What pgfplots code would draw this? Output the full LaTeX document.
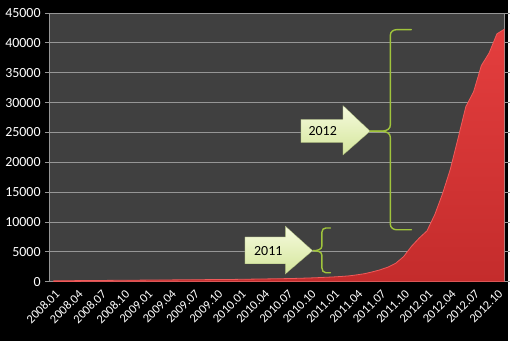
\documentclass[border=0pt]{standalone}
\usepackage{fontspec}
\setmainfont{Carlito}
\usepackage{pgfplots}
\pgfplotsset{compat=1.18}
\definecolor{plotbg}{RGB}{64,64,64}
\definecolor{gridc}{RGB}{150,150,150}
\definecolor{redA}{RGB}{228,62,62}
\definecolor{redB}{RGB}{196,44,44}
\definecolor{redE}{RGB}{240,90,90}
\definecolor{brk}{RGB}{160,196,60}
\definecolor{arrT}{RGB}{246,250,222}
\definecolor{arrB}{RGB}{212,230,155}
\pgfplotstableread{
i v
0 150
1 160
2 170
3 180
4 190
5 200
6 210
7 220
8 230
9 240
10 250
11 260
12 270
13 280
14 290
15 300
16 310
17 320
18 330
19 340
20 350
21 360
22 370
23 380
24 400
25 420
26 440
27 460
28 480
29 500
30 520
31 550
32 590
33 630
34 680
35 740
36 800
37 880
38 980
39 1150
40 1350
41 1650
42 2000
43 2450
44 3100
45 4200
46 5900
47 7300
48 8500
49 11200
50 14700
51 18800
52 24000
53 29300
54 31800
55 36200
56 38300
57 41500
58 42300
}\datatable
\begin{document}
\begin{tikzpicture}[x=1pt,y=1pt]
\fill[black] (0,0) rectangle (510,343);
\begin{axis}[
  at={(50pt,60pt)}, anchor=south west,
  scale only axis, width=457pt, height=270pt,
  xmin=-0.5, xmax=58, ymin=0, ymax=45000,
  ytick={0,5000,...,45000},
  scaled y ticks=false,
  /pgf/number format/1000 sep={},
  /pgf/number format/assume math mode=true,
  xtick={0,3,...,57},
  xticklabels={2008.01,2008.04,2008.07,2008.10,2009.01,2009.04,2009.07,2009.10,2010.01,2010.04,2010.07,2010.10,2011.01,2011.04,2011.07,2011.10,2012.01,2012.04,2012.07,2012.10},
  x tick label style={rotate=45, anchor=north east, font=\fontsize{12.5}{13}\selectfont, text=white, inner sep=1pt, yshift=-1pt},
  y tick label style={font=\fontsize{14}{16}\selectfont, text=white, inner sep=1pt, xshift=-3pt},
  axis background/.style={fill=plotbg},
  ymajorgrids, grid style={gridc, line width=0.7pt},
  axis line style={gridc, line width=0.8pt},
  tick align=outside, major tick length=5pt,
  ytick style={draw=gridc, line width=0.7pt},
  xtick style={draw=none},
  clip=true,
]
\addplot[draw=redE, line width=0.8pt, top color=redA, bottom color=redB] table[x=i, y=v] {\datatable} \closedcycle;
% 2012 arrow
\fill[top color=arrT, bottom color=arrB, draw=arrB!80!black, line width=0.3pt]
  (31.8,27200) -- (37.2,27200) -- (37.2,29500) -- (40.7,25200) -- (37.2,21200) -- (37.2,23300) -- (31.8,23300) -- cycle;
\node[font=\fontsize{14}{16}\selectfont, text=black] at (34.6,25200) {2012};
% 2012 bracket
\draw[brk, line width=1.4pt, line cap=round]
  (46,42200) -- (44.1,42200) to[out=180,in=90] (43.3,41300) -- (43.3,26300) to[out=-90,in=0] (40.7,25200);
\draw[brk, line width=1.4pt, line cap=round]
  (40.7,25200) to[out=0,in=90] (43.3,24100) -- (43.3,9600) to[out=-90,in=180] (44.1,8700) -- (46,8700);
% 2011 arrow
\fill[top color=arrT, bottom color=arrB, draw=arrB!80!black, line width=0.3pt]
  (24.6,7500) -- (29.8,7500) -- (29.8,9300) -- (33.3,5200) -- (29.8,1300) -- (29.8,3000) -- (24.6,3000) -- cycle;
\node[font=\fontsize{14}{16}\selectfont, text=black] at (27.6,5150) {2011};
% 2011 bracket
\draw[brk, line width=1.4pt, line cap=round]
  (35.6,9000) -- (35.0,9000) to[out=180,in=90] (34.5,8300) -- (34.5,6000) to[out=-90,in=0] (33.4,5200);
\draw[brk, line width=1.4pt, line cap=round]
  (33.4,5200) to[out=0,in=90] (34.5,4400) -- (34.5,2300) to[out=-90,in=180] (35.0,1500) -- (35.6,1500);
\end{axis}
\end{tikzpicture}
\end{document}
